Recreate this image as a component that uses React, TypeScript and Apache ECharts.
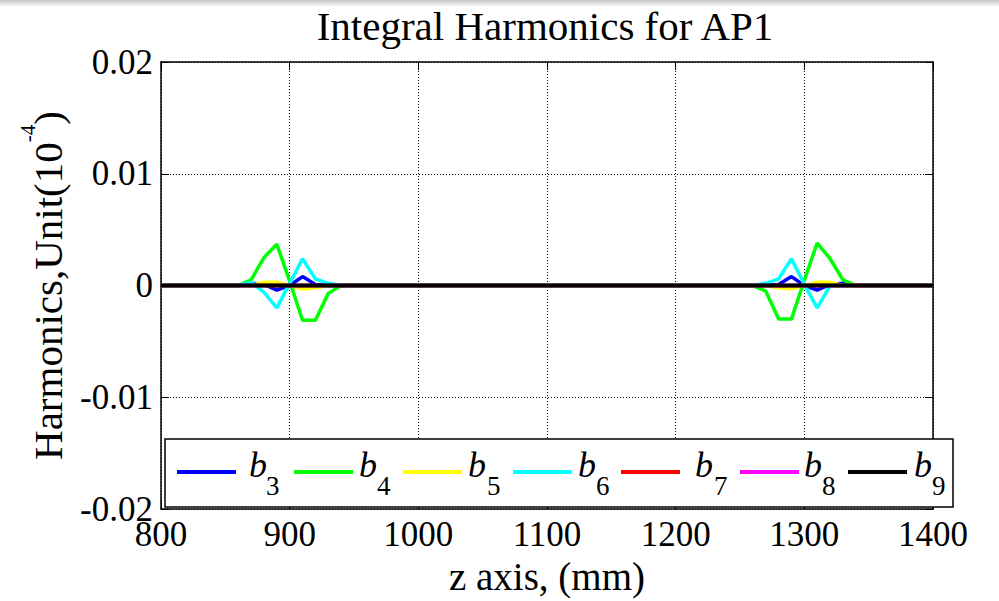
import React, { useEffect, useRef } from "react";
import * as echarts from "echarts";

// Sample positions along z (mm) where the harmonic traces are defined
const zSamples = [800, 860, 870, 880, 890, 900, 910, 920, 930, 940, 1260, 1270, 1280, 1290, 1300, 1310, 1320, 1330, 1340, 1400];

// Integral harmonics b3..b9 (units of 1e-4) at each z sample
const b3 = [0, 0, 0.0002, 0.0001, -0.0004, 0, 0.0008, 0.0001, 0, 0, 0, 0, 0.0001, 0.0008, 0, -0.0004, 0.0001, 0.0002, 0, 0];
const b4 = [0, 0, 0.0005, 0.0025, 0.0037, 0.0004, -0.0031, -0.0031, -0.0007, 0, 0, -0.0005, -0.0030, -0.0030, 0.0005, 0.0038, 0.0024, 0.0005, 0, 0];
const b5 = [0, 0, 0, 0.0003, 0.0003, 0, -0.0003, -0.0002, 0, 0, 0, 0, -0.0002, -0.0003, 0, 0.0003, 0.0003, 0, 0, 0];
const b6 = [0, 0, 0.0003, -0.0006, -0.0020, 0.0002, 0.0024, 0.0006, 0.0002, 0, 0, 0.0002, 0.0006, 0.0024, 0.0001, -0.0020, 0, 0, 0, 0];
const b7 = [0, 0, 0, 0, 0, 0, 0, 0, 0, 0, 0, 0, 0, 0, 0, 0, 0, 0, 0, 0];
const b8 = [0, 0, 0, 0, 0, 0, 0, 0, 0, 0, 0, 0, 0, 0, 0, 0, 0, 0, 0, 0];
const b9 = [0, 0, 0, 0, 0, 0, 0, 0, 0, 0, 0, 0, 0, 0, 0, 0, 0, 0, 0, 0];

const harmonicOrders = ["3", "4", "5", "6", "7", "8", "9"];
const harmonicValues = [b3, b4, b5, b6, b7, b8, b9];
const harmonicColors = ["#0000ff", "#00ff00", "#ffff00", "#00ffff", "#ff0000", "#ff00ff", "#000000"];

// Axis ranges and tick spacing
const xMin = 800;
const xMax = 1400;
const xStep = 100;
const yMin = -0.02;
const yMax = 0.02;
const yStep = 0.01;

const titleText = "Integral Harmonics for AP1";
const xLabelText = "z axis, (mm)";

const FONT = "'Liberation Serif', 'Times New Roman', serif";

// Legend box layout (line sample start, "b" glyph x, subscript x)
const legendLineX = [177, 294, 403, 513, 621, 740, 848];
const legendBX = [249, 359, 468, 578, 695, 804, 914];
const legendSubX = [266, 377, 487, 596, 714, 822, 932];

export default function App() {
  const ref = useRef<HTMLDivElement>(null);

  useEffect(() => {
    if (!ref.current) return;
    const chart = echarts.init(ref.current, undefined, { renderer: "svg", width: 999, height: 601 });

    const series = harmonicOrders.map((ord, i) => ({
      name: "b" + ord,
      type: "line",
      data: zSamples.map((z, k) => [z, harmonicValues[i][k]]),
      showSymbol: false,
      symbol: "none",
      lineStyle: { color: harmonicColors[i], width: i === 6 ? 4 : 3.5 },
      itemStyle: { color: harmonicColors[i] },
      z: 3 + i,
    }));

    const legendElements: any[] = [
      {
        type: "rect",
        shape: { x: 165, y: 439, width: 788, height: 68 },
        style: { fill: "#ffffff", stroke: "#000000", lineWidth: 1.5 },
        z: 100,
      },
    ];
    harmonicOrders.forEach((ord, i) => {
      legendElements.push({
        type: "line",
        shape: { x1: legendLineX[i], y1: 472, x2: legendLineX[i] + 59, y2: 472 },
        style: { stroke: harmonicColors[i], lineWidth: 4 },
        z: 101,
      });
      legendElements.push({
        type: "text",
        x: legendBX[i],
        y: 465,
        style: {
          text: "b",
          fontFamily: FONT,
          fontSize: 36,
          fontStyle: "italic",
          fill: "#000000",
          align: "left",
          verticalAlign: "middle",
        },
        z: 101,
      });
      legendElements.push({
        type: "text",
        x: legendSubX[i],
        y: 486,
        style: {
          text: ord,
          fontFamily: FONT,
          fontSize: 27,
          fill: "#000000",
          align: "left",
          verticalAlign: "middle",
        },
        z: 101,
      });
    });

    const fmtY = (v: number) => String(Number(v.toFixed(2)));
    const fmtX = (v: number) => String(Math.round(v));

    const option: any = {
      animation: false,
      backgroundColor: "#ffffff",
      title: {
        text: titleText,
        left: 540,
        top: 0,
        textAlign: "center",
        textStyle: { fontFamily: FONT, fontSize: 41, fontWeight: "normal", color: "#000" },
      },
      grid: { left: 161, right: 66, top: 62, bottom: 86, show: false },
      xAxis: [
        {
          type: "value",
          min: xMin,
          max: xMax,
          interval: xStep,
          position: "bottom",
          name: xLabelText,
          nameLocation: "middle",
          nameGap: 43,
          nameTextStyle: { fontFamily: FONT, fontSize: 39, color: "#000" },
          axisLine: { show: true, onZero: false, lineStyle: { color: "#000", width: 1.5 } },
          axisTick: { show: true, inside: true, length: 8, lineStyle: { color: "#000", width: 1 } },
          axisLabel: { fontFamily: FONT, fontSize: 35, color: "#000", margin: 8, formatter: fmtX },
          splitLine: { show: true, lineStyle: { color: "#000", type: [1, 2], width: 1 } },
        },
        {
          type: "value",
          min: xMin,
          max: xMax,
          interval: xStep,
          position: "top",
          axisLine: { show: true, onZero: false, lineStyle: { color: "#000", width: 1.5 } },
          axisTick: { show: true, inside: true, length: 8, lineStyle: { color: "#000", width: 1 } },
          axisLabel: { show: false },
          splitLine: { show: false },
        },
      ],
      yAxis: [
        {
          type: "value",
          min: yMin,
          max: yMax,
          interval: yStep,
          position: "left",
          name: "{t|Harmonics,Unit(10}{s|-4}{t|)}",
          nameLocation: "middle",
          nameRotate: 90,
          nameGap: 82,
          nameTextStyle: {
            fontFamily: FONT,
            fontSize: 41,
            color: "#000",
            rich: {
              t: { fontFamily: FONT, fontSize: 41, color: "#000", lineHeight: 62 },
              s: { fontFamily: FONT, fontSize: 21, color: "#000", lineHeight: 20, verticalAlign: "top" },
            },
          },
          axisLine: { show: true, onZero: false, lineStyle: { color: "#000", width: 1.5 } },
          axisTick: { show: true, inside: true, length: 8, lineStyle: { color: "#000", width: 1 } },
          axisLabel: { fontFamily: FONT, fontSize: 35, color: "#000", margin: 8, formatter: fmtY },
          splitLine: { show: true, lineStyle: { color: "#000", type: [1, 2], width: 1 } },
        },
        {
          type: "value",
          min: yMin,
          max: yMax,
          interval: yStep,
          position: "right",
          axisLine: { show: true, onZero: false, lineStyle: { color: "#000", width: 1.5 } },
          axisTick: { show: true, inside: true, length: 8, lineStyle: { color: "#000", width: 1 } },
          axisLabel: { show: false },
          splitLine: { show: false },
        },
      ],
      series,
      graphic: [
        {
          type: "rect",
          shape: { x: 0, y: 0, width: 999, height: 7 },
          style: {
            fill: new echarts.graphic.LinearGradient(0, 0, 0, 1, [
              { offset: 0, color: "#c4c4c4" },
              { offset: 1, color: "#ffffff" },
            ]),
          },
          z: 100,
        },
        ...legendElements,
      ],
    };

    chart.setOption(option);
    return () => chart.dispose();
  }, []);

  return (
    <div
      ref={ref}
      style={{ position: "absolute", left: 0, top: 0, width: 999, height: 601, background: "#fff" }}
    />
  );
}
